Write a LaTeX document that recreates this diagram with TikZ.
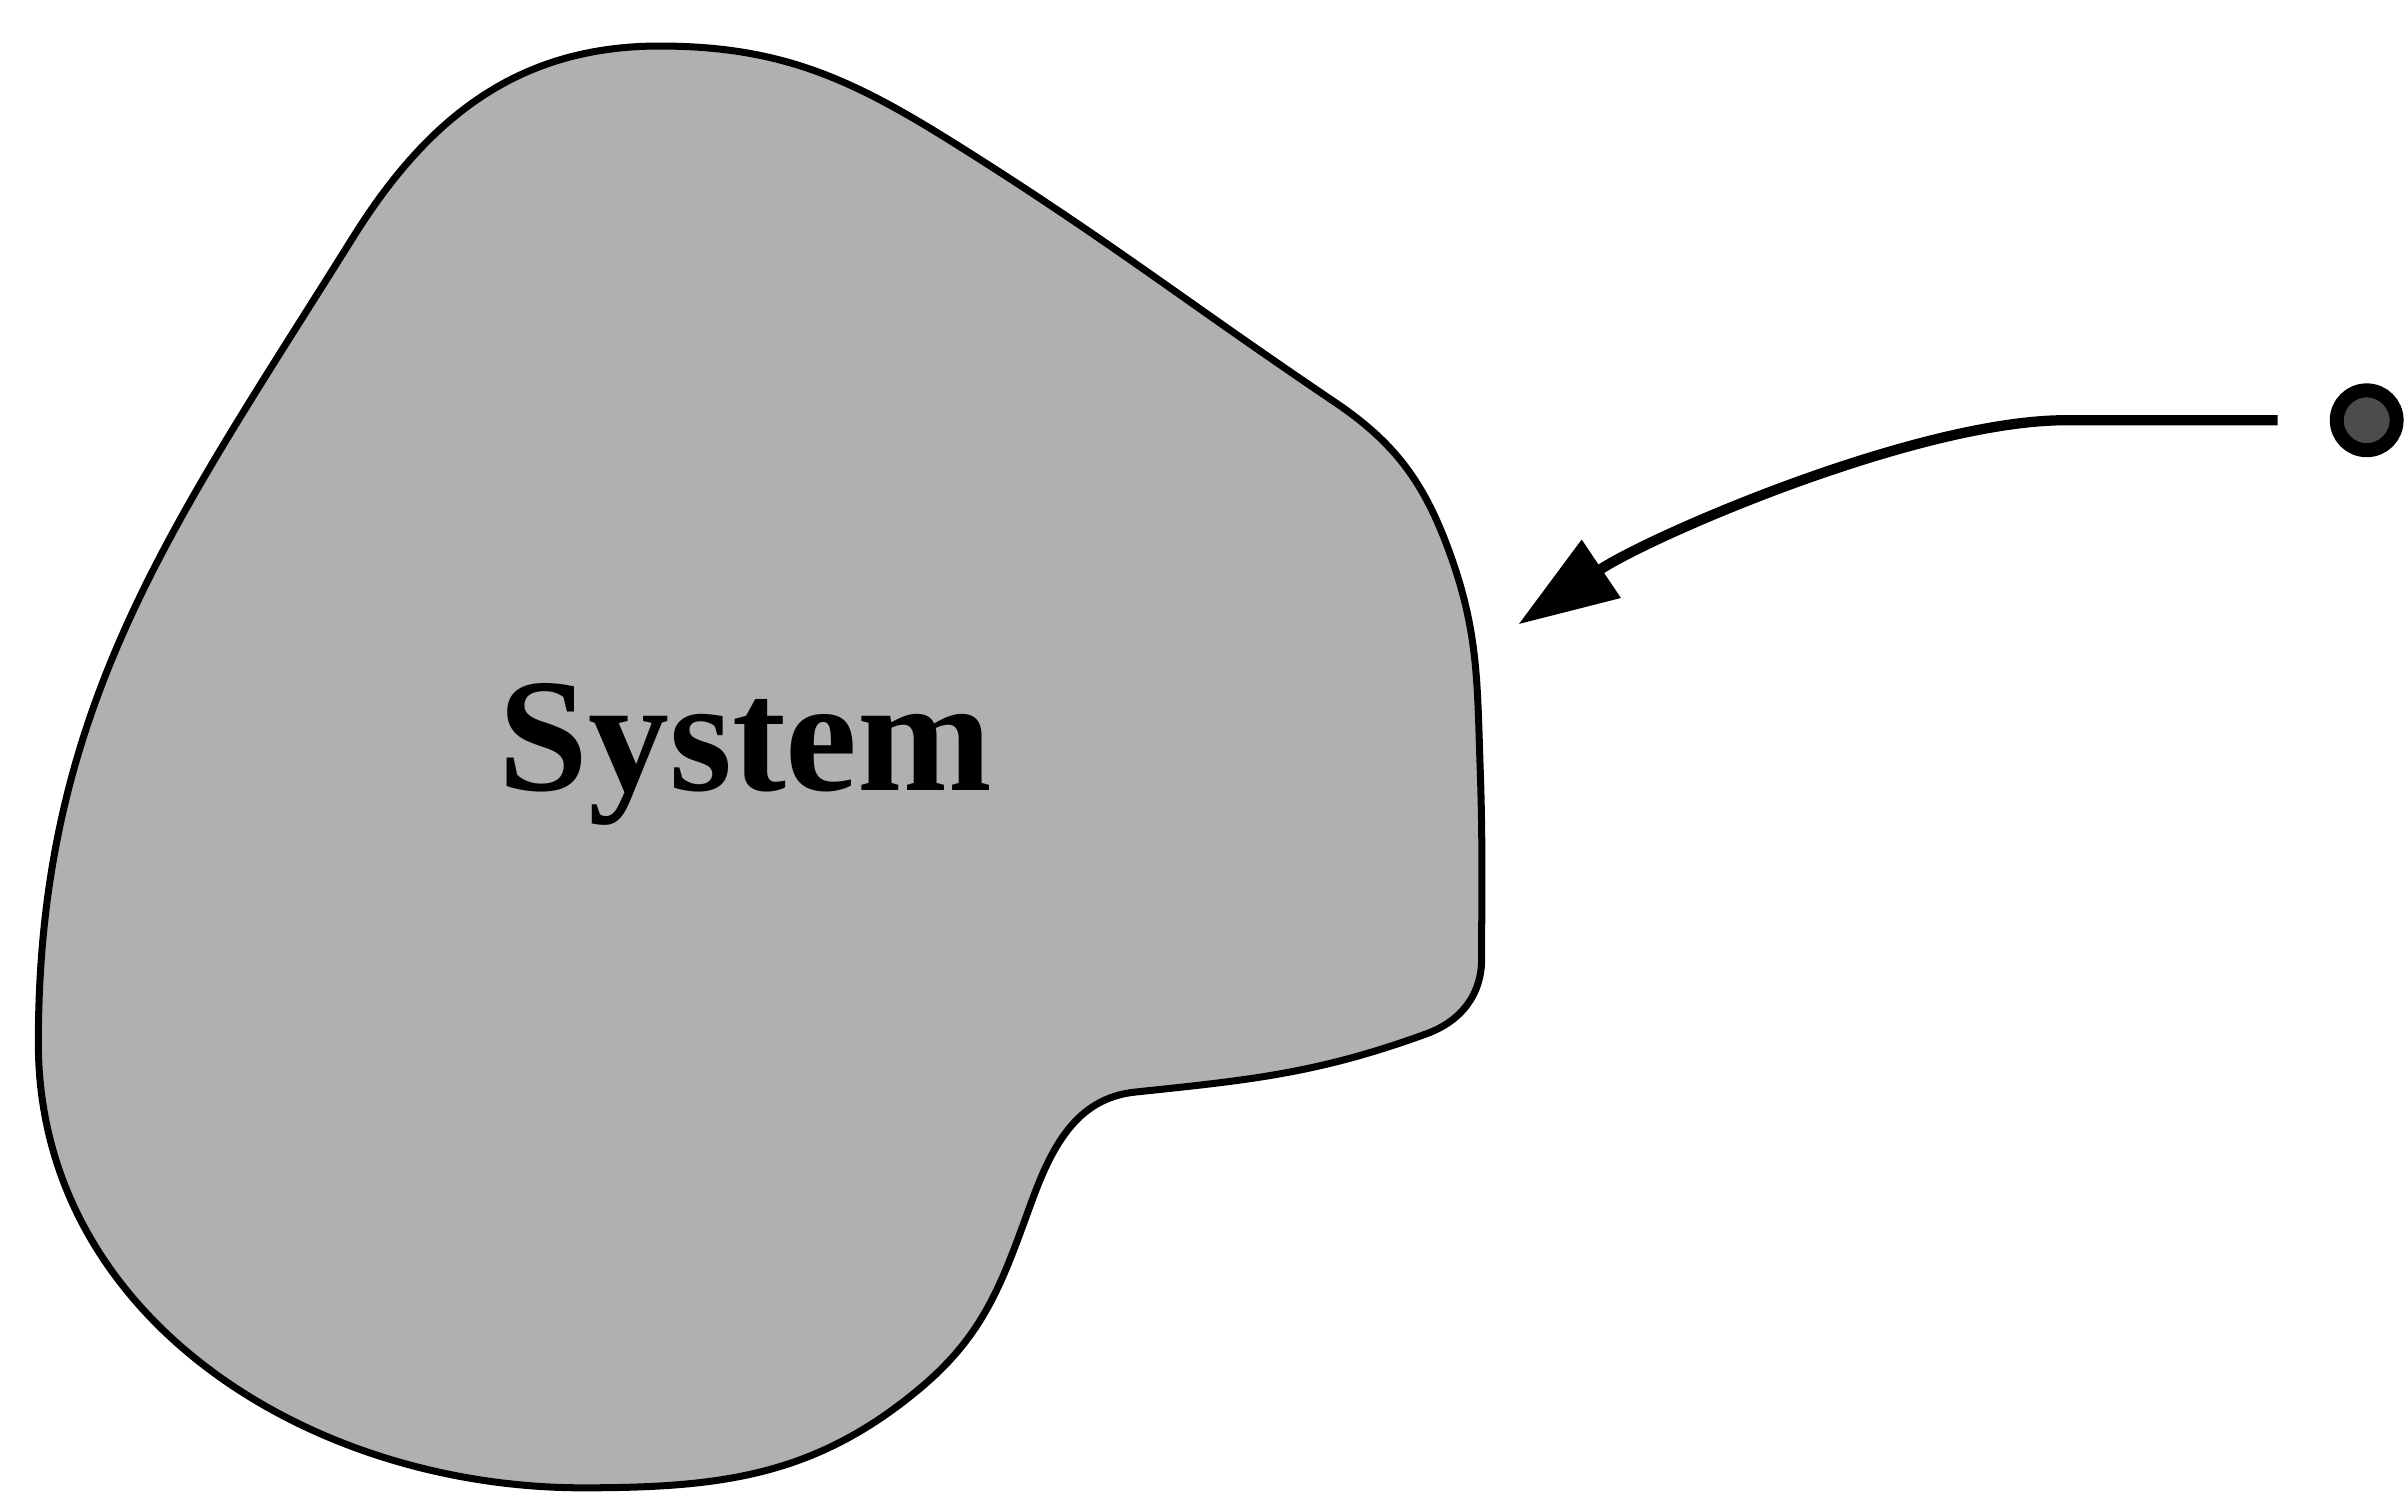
\documentclass[tikz,border=0pt]{standalone}
\usepackage{fontspec}
\setmainfont{Liberation Serif}
\usetikzlibrary{arrows.meta,positioning}

\begin{document}
\begin{tikzpicture}[
            x=1cm, y=1cm,
            region/.style={draw, line width=1.3pt, fill=black!31},
            label/.style={font=\fontsize{30}{33}\selectfont\bfseries},
            source/.style={circle, draw, line width=2.6pt, fill=black!70,
            minimum size=3.9mm, inner sep=0pt},
            flow/.style={-{Triangle[length=6.5mm, width=4.4mm]}, line width=1.9pt}
        ]
\useasboundingbox (0,0) rectangle (15.68,-9.78);
% system boundary
            \draw[region] (4.30,-0.30)
                to[out=0,    in=148] (6.20,-0.92)
                to[out=-32,  in=146] (8.70,-2.62)
                to[out=-34,  in=110] (9.45,-3.60)
                to[out=-70,  in=92]  (9.65,-5.00)
                to[out=-88,  in=90]  (9.66,-6.25)
                to[out=-90,  in=20]  (9.30,-6.74)
                to[out=-160, in=6]   (7.40,-7.12)
                to[out=-174, in=70]  (6.72,-7.85)
                to[out=-110, in=40]  (6.00,-9.05)
                to[out=-140, in=0]   (3.80,-9.70)
                to[out=180,  in=-90] (0.25,-6.80)
                to[out=90,   in=-122] (2.30,-1.55)
                to[out=58,   in=180] cycle;
            \node[label]                                (sys)  at (4.86,-4.92) {System};
% outside source
            \node[source]                               (src)  at (15.43,-2.74) {};
            \coordinate                                 (hit)  at (9.90,-4.07);
% transfer across the boundary
            \draw[flow, shorten <=5.8mm] (src.center) -- ++(-2.0,0)
                .. controls (12.45,-2.76) and (10.75,-3.50) .. (hit);
        \end{tikzpicture}
\end{document}
